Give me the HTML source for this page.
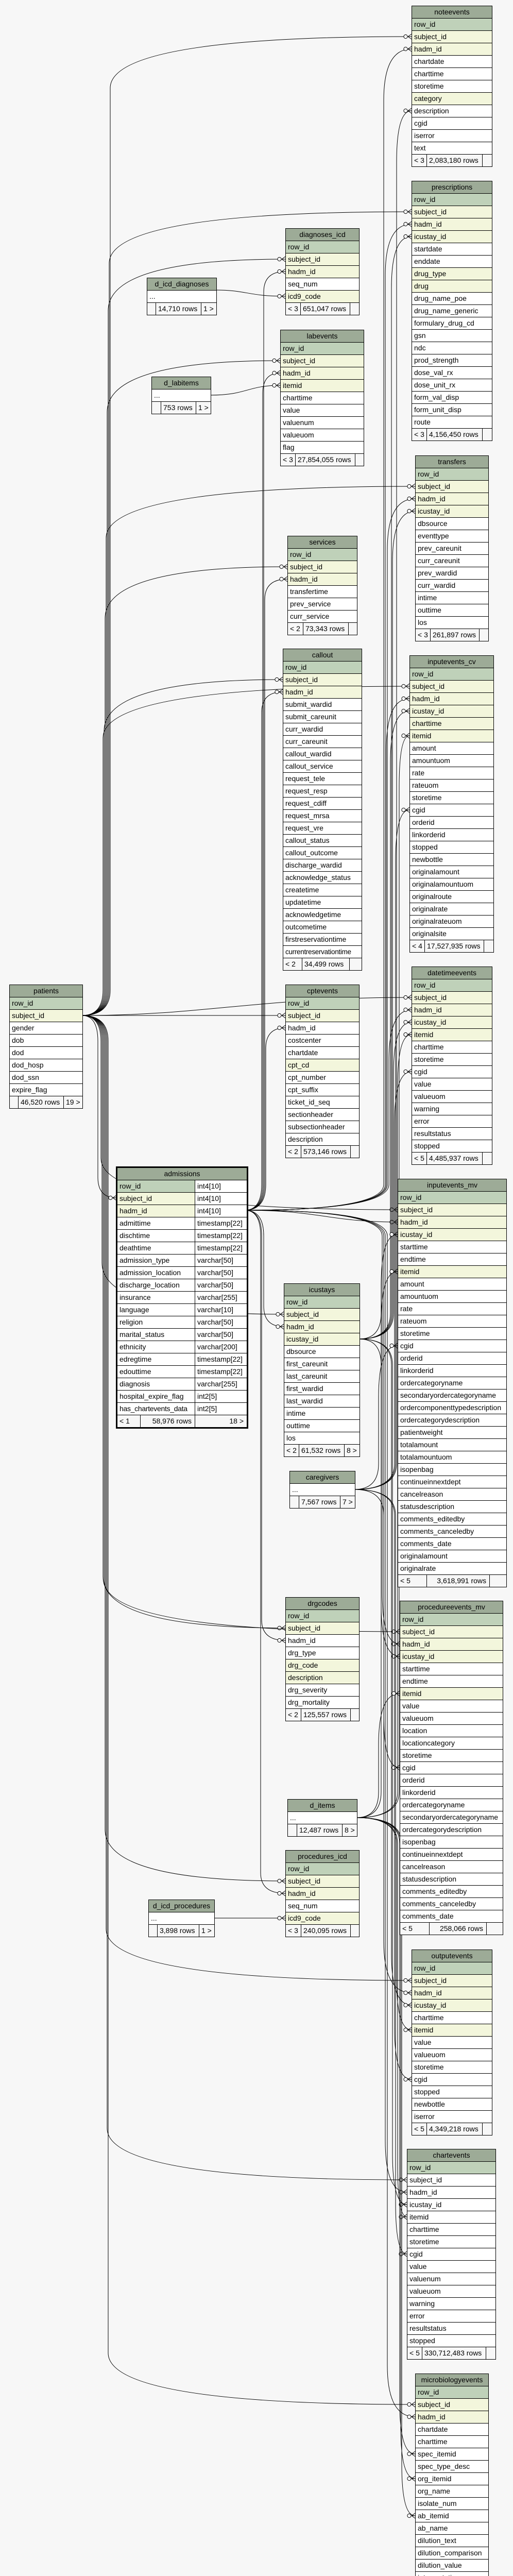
<!DOCTYPE html>
<html><head><meta charset="utf-8">
<style>
html,body{margin:0;padding:0;background:#f7f7f7;width:996px;height:5093px;overflow:hidden;}
#c{position:relative;width:996px;height:5093px;overflow:hidden;background:#f7f7f7;font-family:"Liberation Sans",Arial,sans-serif;font-size:14px;color:#000;}
svg{position:absolute;left:0;top:0;z-index:0;display:block;}
.t{position:absolute;border:1px solid #000;background:#fff;z-index:1;box-sizing:content-box;}
.t .r{height:24px;min-height:24px;max-height:24px;line-height:23px;border-top:1px solid #000;padding-left:4px;white-space:nowrap;overflow:hidden;box-sizing:border-box;}
.t .h{background:#9dab97;text-align:center;border-top:none;padding-left:0;height:23px;min-height:23px;max-height:23px;line-height:23px;}
.t .p{background:#bfd1b9;}
.t .k{background:#f3f6dc;}
.t .f{background:#f7f7f7;display:flex;padding-left:0;}
.t .f span{display:block;border-right:1px solid #000;padding-left:4px;box-sizing:border-box;height:23px;line-height:23px;overflow:hidden;}
.t .f span:last-child{border-right:none;flex:1;}
.adm{border:3px solid #000;}
.adm .r{display:flex;padding-left:0;}
.adm .r span{display:block;box-sizing:border-box;padding-left:4px;height:23px;line-height:23px;overflow:hidden;}
.adm .r span.n{width:151px;border-right:1px solid #000;}
.adm .r span.y{flex:1;background:#fff;}
.adm .h{display:block;}
#gen{position:absolute;left:17px;top:5062px;font-size:14px;line-height:16px;}
</style></head><body><div id="c">
<svg width="996" height="5093" viewBox="0 0 996 5093">
<defs><marker id="m" markerUnits="userSpaceOnUse" markerWidth="17" markerHeight="13" viewBox="0 0 17 13" refX="16" refY="6.5" orient="auto"><circle cx="4.5" cy="6.5" r="3.6" fill="#fff" stroke="#000" stroke-width="1"/><path d="M9,6.5 L16,1.5 M9,6.5 L16,6.5 M9,6.5 L16,11.5" stroke="#000" stroke-width="1" fill="none"/></marker></defs>
<g fill="none" stroke="#000" stroke-width="1" marker-end="url(#m)">
<path d="M159,1971 Q214,1971 214,1921 L214,171 Q214,71 799,71"/>
<path d="M159,1971 Q212,1971 212,1921 L212,511 Q212,411 799,411"/>
<path d="M159,1971 Q210,1971 210,1921 L210,603 Q210,503 554,503"/>
<path d="M159,1971 Q208,1971 208,1921 L208,800 Q208,700 544,700"/>
<path d="M159,1971 Q206,1971 206,1921 L206,1044 Q206,944 806,944"/>
<path d="M159,1971 Q204,1971 204,1921 L204,1200 Q204,1100 558,1100"/>
<path d="M159,1971 Q202,1971 202,1921 L202,1419 Q202,1319 549,1319"/>
<path d="M159,1971 Q200,1971 200,1921 L200,1432 Q200,1332 795,1332"/>
<path d="M159,1971 C400,1971 500,1936 799,1936"/>
<path d="M159,1971 L554,1971"/>
<path d="M159,1971 Q190,1971 190,2021 L190,2285 Q190,2325 226,2325"/>
<path d="M159,1971 Q196,1971 196,2021 L196,2248 Q196,2348 772,2348"/>
<path d="M159,1971 Q198,1971 198,2021 L198,2451 Q198,2551 551,2551"/>
<path d="M159,1971 Q200,1971 200,2021 L200,3060 Q200,3160 554,3160"/>
<path d="M159,1971 Q202,1971 202,2021 L202,3067 Q202,3167 776,3167"/>
<path d="M159,1971 Q204,1971 204,2021 L204,3551 Q204,3651 554,3651"/>
<path d="M159,1971 Q206,1971 206,2021 L206,3744 Q206,3844 799,3844"/>
<path d="M159,1971 Q208,1971 208,2021 L208,4131 Q208,4231 790,4231"/>
<path d="M159,1971 Q210,1971 210,2021 L210,4567 Q210,4667 806,4667"/>
<path d="M475,2349 Q512,2349 512,2299 L512,567 Q512,527 554,527"/>
<path d="M475,2349 Q510,2349 510,2299 L510,764 Q510,724 544,724"/>
<path d="M475,2349 Q514,2349 514,2299 L514,1164 Q514,1124 558,1124"/>
<path d="M475,2349 Q508,2349 508,2299 L508,1383 Q508,1343 549,1343"/>
<path d="M475,2349 Q516,2349 516,2299 L516,2035 Q516,1995 554,1995"/>
<path d="M475,2349 Q512,2349 512,2399 L512,2535 Q512,2575 551,2575"/>
<path d="M475,2349 Q508,2349 508,2399 L508,3144 Q508,3184 554,3184"/>
<path d="M475,2349 Q506,2349 506,2399 L506,3635 Q506,3675 554,3675"/>
<path d="M475,2349 Q745,2349 745,2299 L745,195 Q745,95 799,95"/>
<path d="M475,2349 Q748,2349 748,2299 L748,535 Q748,435 799,435"/>
<path d="M475,2349 Q752,2349 752,2299 L752,1068 Q752,968 806,968"/>
<path d="M475,2349 Q750,2349 750,2299 L750,1456 Q750,1356 795,1356"/>
<path d="M475,2349 Q755,2349 755,2299 L755,2060 Q755,1960 799,1960"/>
<path d="M475,2349 C620,2349 640,2372 772,2372"/>
<path d="M475,2349 Q742,2349 742,2399 L742,3091 Q742,3191 776,3191"/>
<path d="M475,2349 Q745,2349 745,2399 L745,3768 Q745,3868 799,3868"/>
<path d="M475,2349 Q748,2349 748,2399 L748,4155 Q748,4255 790,4255"/>
<path d="M475,2349 Q752,2349 752,2399 L752,4591 Q752,4691 806,4691"/>
<path d="M697,2599 Q760,2599 760,2549 L760,559 Q760,459 799,459"/>
<path d="M697,2599 Q762,2599 762,2549 L762,1092 Q762,992 806,992"/>
<path d="M697,2599 Q758,2599 758,2549 L758,1480 Q758,1380 795,1380"/>
<path d="M697,2599 Q764,2599 764,2549 L764,2084 Q764,1984 799,1984"/>
<path d="M697,2599 Q740,2599 740,2549 L740,2496 Q740,2396 772,2396"/>
<path d="M697,2599 Q740,2599 740,2649 L740,3115 Q740,3215 776,3215"/>
<path d="M697,2599 Q760,2599 760,2649 L760,3792 Q760,3892 799,3892"/>
<path d="M697,2599 Q762,2599 762,2649 L762,4179 Q762,4279 790,4279"/>
<path d="M688,2891 Q770,2891 770,2841 L770,315 Q770,215 799,215"/>
<path d="M688,2891 Q768,2891 768,2841 L768,1672 Q768,1572 795,1572"/>
<path d="M688,2891 Q766,2891 766,2841 L766,2180 Q766,2080 799,2080"/>
<path d="M688,2891 Q735,2891 735,2841 L735,2712 Q735,2612 772,2612"/>
<path d="M688,2891 Q745,2891 745,2941 L745,3331 Q745,3431 776,3431"/>
<path d="M688,2891 Q766,2891 766,2941 L766,3936 Q766,4036 799,4036"/>
<path d="M688,2891 Q768,2891 768,2941 L768,4275 Q768,4375 790,4375"/>
<path d="M692,3528 Q775,3528 775,3478 L775,1528 Q775,1428 795,1428"/>
<path d="M692,3528 Q772,3528 772,3478 L772,2108 Q772,2008 799,2008"/>
<path d="M692,3528 Q740,3528 740,3478 L740,2568 Q740,2468 772,2468"/>
<path d="M692,3528 Q735,3528 735,3478 L735,3387 Q735,3287 776,3287"/>
<path d="M692,3528 Q770,3528 770,3578 L770,3840 Q770,3940 799,3940"/>
<path d="M692,3528 Q772,3528 772,3578 L772,4203 Q772,4303 790,4303"/>
<path d="M692,3528 Q776,3528 776,3578 L776,4663 Q776,4763 806,4763"/>
<path d="M692,3528 Q778,3528 778,3578 L778,4711 Q778,4811 806,4811"/>
<path d="M692,3528 Q780,3528 780,3578 L780,4783 Q780,4883 806,4883"/>
<path d="M419,563 C480,563 480,575 554,575"/>
<path d="M408,767 C480,767 480,748 544,748"/>
<path d="M415,3723 L554,3723"/>
</g>
</svg>

<div class="t" style="left:799px;top:11px;width:155px"><div class="r h">noteevents</div><div class="r p">row_id</div><div class="r k">subject_id</div><div class="r k">hadm_id</div><div class="r">chartdate</div><div class="r">charttime</div><div class="r">storetime</div><div class="r k">category</div><div class="r">description</div><div class="r">cgid</div><div class="r">iserror</div><div class="r">text</div><div class="r f"><span style="width:29px">&lt; 3</span><span style="width:108px">2,083,180 rows</span><span></span></div></div>

<div class="t" style="left:799px;top:351px;width:155px"><div class="r h">prescriptions</div><div class="r p">row_id</div><div class="r k">subject_id</div><div class="r k">hadm_id</div><div class="r k">icustay_id</div><div class="r">startdate</div><div class="r">enddate</div><div class="r k">drug_type</div><div class="r k">drug</div><div class="r">drug_name_poe</div><div class="r">drug_name_generic</div><div class="r">formulary_drug_cd</div><div class="r">gsn</div><div class="r">ndc</div><div class="r">prod_strength</div><div class="r">dose_val_rx</div><div class="r">dose_unit_rx</div><div class="r">form_val_disp</div><div class="r">form_unit_disp</div><div class="r">route</div><div class="r f"><span style="width:29px">&lt; 3</span><span style="width:108px">4,156,450 rows</span><span></span></div></div>

<div class="t" style="left:554px;top:443px;width:142px"><div class="r h">diagnoses_icd</div><div class="r p">row_id</div><div class="r k">subject_id</div><div class="r k">hadm_id</div><div class="r">seq_num</div><div class="r k">icd9_code</div><div class="r f"><span style="width:29px">&lt; 3</span><span style="width:96px">651,047 rows</span><span></span></div></div>

<div class="t" style="left:285px;top:539px;width:134px"><div class="r h">d_icd_diagnoses</div><div class="r">...</div><div class="r f"><span style="width:17px"></span><span style="width:88px">14,710 rows</span><span>1 &gt;</span></div></div>

<div class="t" style="left:544px;top:640px;width:161px"><div class="r h">labevents</div><div class="r p">row_id</div><div class="r k">subject_id</div><div class="r k">hadm_id</div><div class="r k">itemid</div><div class="r">charttime</div><div class="r">value</div><div class="r">valuenum</div><div class="r">valueuom</div><div class="r">flag</div><div class="r f"><span style="width:29px">&lt; 3</span><span style="width:116px">27,854,055 rows</span><span></span></div></div>

<div class="t" style="left:294px;top:731px;width:114px"><div class="r h">d_labitems</div><div class="r">...</div><div class="r f"><span style="width:18px"></span><span style="width:68px">753 rows</span><span>1 &gt;</span></div></div>

<div class="t" style="left:806px;top:884px;width:141px"><div class="r h">transfers</div><div class="r p">row_id</div><div class="r k">subject_id</div><div class="r k">hadm_id</div><div class="r k">icustay_id</div><div class="r">dbsource</div><div class="r">eventtype</div><div class="r">prev_careunit</div><div class="r">curr_careunit</div><div class="r">prev_wardid</div><div class="r">curr_wardid</div><div class="r">intime</div><div class="r">outtime</div><div class="r">los</div><div class="r f"><span style="width:29px">&lt; 3</span><span style="width:95px">261,897 rows</span><span></span></div></div>

<div class="t" style="left:558px;top:1040px;width:134px"><div class="r h">services</div><div class="r p">row_id</div><div class="r k">subject_id</div><div class="r k">hadm_id</div><div class="r">transfertime</div><div class="r">prev_service</div><div class="r">curr_service</div><div class="r f"><span style="width:30px">&lt; 2</span><span style="width:88px">73,343 rows</span><span></span></div></div>

<div class="t" style="left:549px;top:1259px;width:152px"><div class="r h">callout</div><div class="r p">row_id</div><div class="r k">subject_id</div><div class="r k">hadm_id</div><div class="r">submit_wardid</div><div class="r">submit_careunit</div><div class="r">curr_wardid</div><div class="r">curr_careunit</div><div class="r">callout_wardid</div><div class="r">callout_service</div><div class="r">request_tele</div><div class="r">request_resp</div><div class="r">request_cdiff</div><div class="r">request_mrsa</div><div class="r">request_vre</div><div class="r">callout_status</div><div class="r">callout_outcome</div><div class="r">discharge_wardid</div><div class="r">acknowledge_status</div><div class="r">createtime</div><div class="r">updatetime</div><div class="r">acknowledgetime</div><div class="r">outcometime</div><div class="r">firstreservationtime</div><div class="r" style="font-size:13.5px;letter-spacing:-0.3px">currentreservationtime</div><div class="r f"><span style="width:37px">&lt; 2</span><span style="width:92px">34,499 rows</span><span></span></div></div>

<div class="t" style="left:795px;top:1272px;width:162px"><div class="r h">inputevents_cv</div><div class="r p">row_id</div><div class="r k">subject_id</div><div class="r k">hadm_id</div><div class="r k">icustay_id</div><div class="r k">charttime</div><div class="r k">itemid</div><div class="r">amount</div><div class="r">amountuom</div><div class="r">rate</div><div class="r">rateuom</div><div class="r">storetime</div><div class="r">cgid</div><div class="r">orderid</div><div class="r">linkorderid</div><div class="r">stopped</div><div class="r">newbottle</div><div class="r">originalamount</div><div class="r">originalamountuom</div><div class="r">originalroute</div><div class="r">originalrate</div><div class="r">originalrateuom</div><div class="r">originalsite</div><div class="r f"><span style="width:29px">&lt; 4</span><span style="width:115px">17,527,935 rows</span><span></span></div></div>

<div class="t" style="left:18px;top:1911px;width:141px"><div class="r h">patients</div><div class="r p">row_id</div><div class="r k">subject_id</div><div class="r">gender</div><div class="r">dob</div><div class="r">dod</div><div class="r">dod_hosp</div><div class="r">dod_ssn</div><div class="r">expire_flag</div><div class="r f"><span style="width:17px"></span><span style="width:88px">46,520 rows</span><span>19 &gt;</span></div></div>

<div class="t" style="left:554px;top:1911px;width:142px"><div class="r h">cptevents</div><div class="r p">row_id</div><div class="r k">subject_id</div><div class="r">hadm_id</div><div class="r">costcenter</div><div class="r">chartdate</div><div class="r k">cpt_cd</div><div class="r">cpt_number</div><div class="r">cpt_suffix</div><div class="r">ticket_id_seq</div><div class="r">sectionheader</div><div class="r">subsectionheader</div><div class="r">description</div><div class="r f"><span style="width:30px">&lt; 2</span><span style="width:96px">573,146 rows</span><span></span></div></div>

<div class="t" style="left:799px;top:1876px;width:155px"><div class="r h">datetimeevents</div><div class="r p">row_id</div><div class="r k">subject_id</div><div class="r k">hadm_id</div><div class="r k">icustay_id</div><div class="r k">itemid</div><div class="r">charttime</div><div class="r">storetime</div><div class="r">cgid</div><div class="r">value</div><div class="r">valueuom</div><div class="r">warning</div><div class="r">error</div><div class="r">resultstatus</div><div class="r">stopped</div><div class="r f"><span style="width:29px">&lt; 5</span><span style="width:108px">4,485,937 rows</span><span></span></div></div>

<div class="t adm" style="left:225px;top:2264px;width:251px"><div class="r h">admissions</div>
<div class="r"><span class="n" style="background:#bfd1b9">row_id</span><span class="y">int4[10]</span></div>
<div class="r"><span class="n" style="background:#f3f6dc">subject_id</span><span class="y">int4[10]</span></div>
<div class="r"><span class="n" style="background:#f3f6dc">hadm_id</span><span class="y">int4[10]</span></div>
<div class="r"><span class="n">admittime</span><span class="y">timestamp[22]</span></div>
<div class="r"><span class="n">dischtime</span><span class="y">timestamp[22]</span></div>
<div class="r"><span class="n">deathtime</span><span class="y">timestamp[22]</span></div>
<div class="r"><span class="n">admission_type</span><span class="y">varchar[50]</span></div>
<div class="r"><span class="n">admission_location</span><span class="y">varchar[50]</span></div>
<div class="r"><span class="n">discharge_location</span><span class="y">varchar[50]</span></div>
<div class="r"><span class="n">insurance</span><span class="y">varchar[255]</span></div>
<div class="r"><span class="n">language</span><span class="y">varchar[10]</span></div>
<div class="r"><span class="n">religion</span><span class="y">varchar[50]</span></div>
<div class="r"><span class="n">marital_status</span><span class="y">varchar[50]</span></div>
<div class="r"><span class="n">ethnicity</span><span class="y">varchar[200]</span></div>
<div class="r"><span class="n">edregtime</span><span class="y">timestamp[22]</span></div>
<div class="r"><span class="n">edouttime</span><span class="y">timestamp[22]</span></div>
<div class="r"><span class="n">diagnosis</span><span class="y">varchar[255]</span></div>
<div class="r"><span class="n">hospital_expire_flag</span><span class="y">int2[5]</span></div>
<div class="r"><span class="n" style="letter-spacing:-0.3px">has_chartevents_data</span><span class="y">int2[5]</span></div>
<div class="r" style="background:#f7f7f7"><span style="width:45px;border-right:1px solid #000">&lt; 1</span><span style="width:106px;border-right:1px solid #000;text-align:right;padding-right:6px">58,976 rows</span><span style="flex:1;text-align:right;padding-right:6px">18 &gt;</span></div></div>

<div class="t" style="left:772px;top:2288px;width:210px"><div class="r h">inputevents_mv</div><div class="r p">row_id</div><div class="r k">subject_id</div><div class="r k">hadm_id</div><div class="r k">icustay_id</div><div class="r">starttime</div><div class="r">endtime</div><div class="r k">itemid</div><div class="r">amount</div><div class="r">amountuom</div><div class="r">rate</div><div class="r">rateuom</div><div class="r">storetime</div><div class="r">cgid</div><div class="r">orderid</div><div class="r">linkorderid</div><div class="r">ordercategoryname</div><div class="r">secondaryordercategoryname</div><div class="r">ordercomponenttypedescription</div><div class="r">ordercategorydescription</div><div class="r">patientweight</div><div class="r">totalamount</div><div class="r">totalamountuom</div><div class="r">isopenbag</div><div class="r">continueinnextdept</div><div class="r">cancelreason</div><div class="r">statusdescription</div><div class="r">comments_editedby</div><div class="r">comments_canceledby</div><div class="r">comments_date</div><div class="r">originalamount</div><div class="r">originalrate</div><div class="r f"><span style="width:56px">&lt; 5</span><span style="width:122px;text-align:right;padding-right:6px">3,618,991 rows</span><span></span></div></div>

<div class="t" style="left:551px;top:2491px;width:146px"><div class="r h">icustays</div><div class="r p">row_id</div><div class="r k">subject_id</div><div class="r k">hadm_id</div><div class="r k">icustay_id</div><div class="r">dbsource</div><div class="r">first_careunit</div><div class="r">last_careunit</div><div class="r">first_wardid</div><div class="r">last_wardid</div><div class="r">intime</div><div class="r">outtime</div><div class="r">los</div><div class="r f"><span style="width:29px">&lt; 2</span><span style="width:88px">61,532 rows</span><span>8 &gt;</span></div></div>

<div class="t" style="left:562px;top:2855px;width:126px"><div class="r h">caregivers</div><div class="r">...</div><div class="r f"><span style="width:18px"></span><span style="width:80px">7,567 rows</span><span>7 &gt;</span></div></div>

<div class="t" style="left:554px;top:3100px;width:142px"><div class="r h">drgcodes</div><div class="r p">row_id</div><div class="r k">subject_id</div><div class="r">hadm_id</div><div class="r">drg_type</div><div class="r k">drg_code</div><div class="r k">description</div><div class="r">drg_severity</div><div class="r">drg_mortality</div><div class="r f"><span style="width:30px">&lt; 2</span><span style="width:96px">125,557 rows</span><span></span></div></div>

<div class="t" style="left:776px;top:3107px;width:199px"><div class="r h">procedureevents_mv</div><div class="r p">row_id</div><div class="r k">subject_id</div><div class="r k">hadm_id</div><div class="r k">icustay_id</div><div class="r">starttime</div><div class="r">endtime</div><div class="r k">itemid</div><div class="r">value</div><div class="r">valueuom</div><div class="r">location</div><div class="r">locationcategory</div><div class="r">storetime</div><div class="r">cgid</div><div class="r">orderid</div><div class="r">linkorderid</div><div class="r">ordercategoryname</div><div class="r">secondaryordercategoryname</div><div class="r">ordercategorydescription</div><div class="r">isopenbag</div><div class="r">continueinnextdept</div><div class="r">cancelreason</div><div class="r">statusdescription</div><div class="r">comments_editedby</div><div class="r">comments_canceledby</div><div class="r">comments_date</div><div class="r f"><span style="width:57px">&lt; 5</span><span style="width:111px;text-align:right;padding-right:6px">258,066 rows</span><span></span></div></div>

<div class="t" style="left:558px;top:3492px;width:134px"><div class="r h">d_items</div><div class="r">...</div><div class="r f"><span style="width:18px"></span><span style="width:88px">12,487 rows</span><span>8 &gt;</span></div></div>

<div class="t" style="left:554px;top:3591px;width:142px"><div class="r h">procedures_icd</div><div class="r p">row_id</div><div class="r k">subject_id</div><div class="r k">hadm_id</div><div class="r">seq_num</div><div class="r k">icd9_code</div><div class="r f"><span style="width:30px">&lt; 3</span><span style="width:96px">240,095 rows</span><span></span></div></div>

<div class="t" style="left:288px;top:3687px;width:127px"><div class="r h">d_icd_procedures</div><div class="r">...</div><div class="r f"><span style="width:17px"></span><span style="width:81px">3,898 rows</span><span>1 &gt;</span></div></div>

<div class="t" style="left:799px;top:3784px;width:155px"><div class="r h">outputevents</div><div class="r p">row_id</div><div class="r k">subject_id</div><div class="r k">hadm_id</div><div class="r k">icustay_id</div><div class="r">charttime</div><div class="r k">itemid</div><div class="r">value</div><div class="r">valueuom</div><div class="r">storetime</div><div class="r">cgid</div><div class="r">stopped</div><div class="r">newbottle</div><div class="r">iserror</div><div class="r f"><span style="width:29px">&lt; 5</span><span style="width:108px">4,349,218 rows</span><span></span></div></div>

<div class="t" style="left:790px;top:4171px;width:171px"><div class="r h">chartevents</div><div class="r p">row_id</div><div class="r">subject_id</div><div class="r">hadm_id</div><div class="r">icustay_id</div><div class="r">itemid</div><div class="r">charttime</div><div class="r">storetime</div><div class="r">cgid</div><div class="r">value</div><div class="r">valuenum</div><div class="r">valueuom</div><div class="r">warning</div><div class="r">error</div><div class="r">resultstatus</div><div class="r">stopped</div><div class="r f"><span style="width:29px">&lt; 5</span><span style="width:124px">330,712,483 rows</span><span></span></div></div>

<div class="t" style="left:806px;top:4607px;width:141px"><div class="r h">microbiologyevents</div><div class="r p">row_id</div><div class="r k">subject_id</div><div class="r k">hadm_id</div><div class="r">chartdate</div><div class="r">charttime</div><div class="r">spec_itemid</div><div class="r">spec_type_desc</div><div class="r">org_itemid</div><div class="r">org_name</div><div class="r">isolate_num</div><div class="r">ab_itemid</div><div class="r">ab_name</div><div class="r">dilution_text</div><div class="r">dilution_comparison</div><div class="r">dilution_value</div><div class="r">interpretation</div><div class="r f"><span style="width:29px">&lt; 5</span><span style="width:96px">631,726 rows</span><span></span></div></div>

<div id="gen">Generated by SchemaSpy</div>
</div></body></html>
